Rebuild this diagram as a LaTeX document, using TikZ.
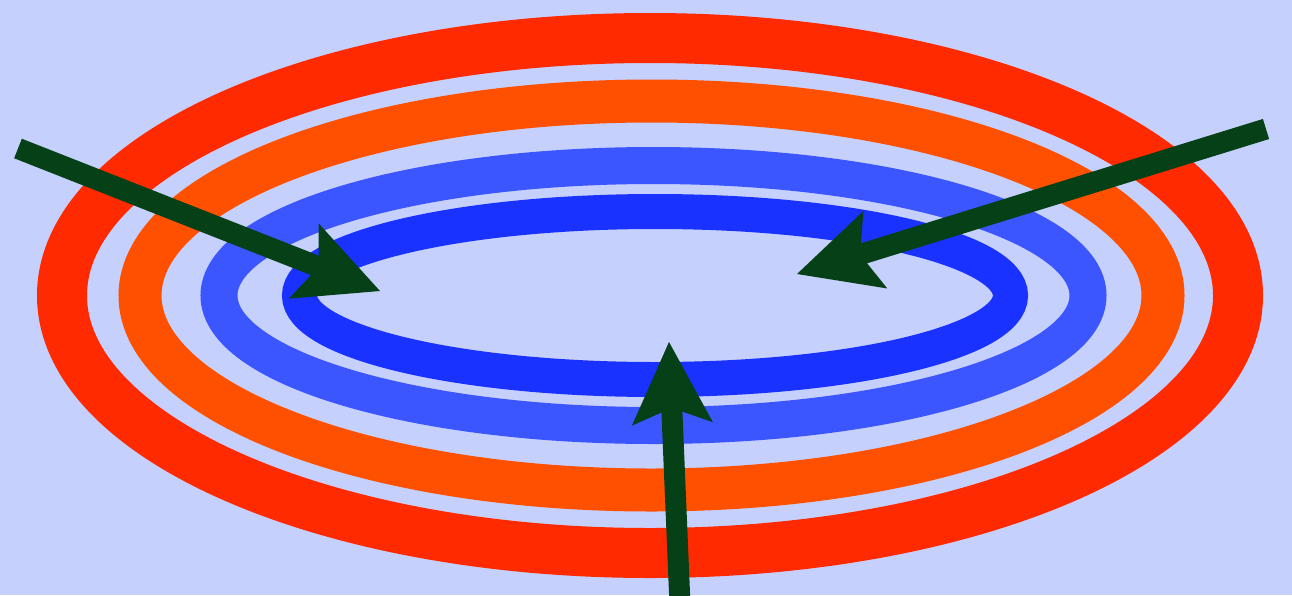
\documentclass[tikz,border=0pt]{standalone}
\usetikzlibrary{arrows.meta}
\definecolor{bgc}{RGB}{198,208,252}
\definecolor{ringA}{RGB}{255,42,0}
\definecolor{ringB}{RGB}{255,80,0}
\definecolor{ringC}{RGB}{59,85,255}
\definecolor{ringD}{RGB}{26,50,255}
\definecolor{arr}{RGB}{6,64,22}
\tikzset{
  ring/.style={line width=#1},
  pointer/.style={draw=arr, line width=21pt, line cap=butt,
    -{Stealth[length=82pt,width=81pt,inset=16pt,line width=0pt]}}
}
\begin{document}
\begin{tikzpicture}[x=1pt,y=-1pt]
\useasboundingbox (0,0) rectangle (1292,595);
\clip (0,0) rectangle (1292,595);
\fill[bgc] (0,0) rectangle (1292,595);
\draw[ringA, ring=50pt] (650,295.5) ellipse [x radius=588, y radius=257.5];
\draw[ringB, ring=43pt] (651.5,295.5) ellipse [x radius=511.5, y radius=194.5];
\draw[ringC, ring=37pt] (653.5,295.5) ellipse [x radius=434.5, y radius=130];
\draw[ringD, ring=35pt] (655,295.5) ellipse [x radius=355.5, y radius=84];
\coordinate (t1) at (18,148.5);
\coordinate (h1) at (380,291);
\coordinate (t2) at (1266,129);
\coordinate (h2) at (797,274);
\coordinate (t3) at (680,605);
\coordinate (h3) at (669,342);
\draw[pointer] (t1) -- (h1);
\draw[pointer] (t2) -- (h2);
\draw[pointer] (t3) -- (h3);
\end{tikzpicture}
\end{document}
